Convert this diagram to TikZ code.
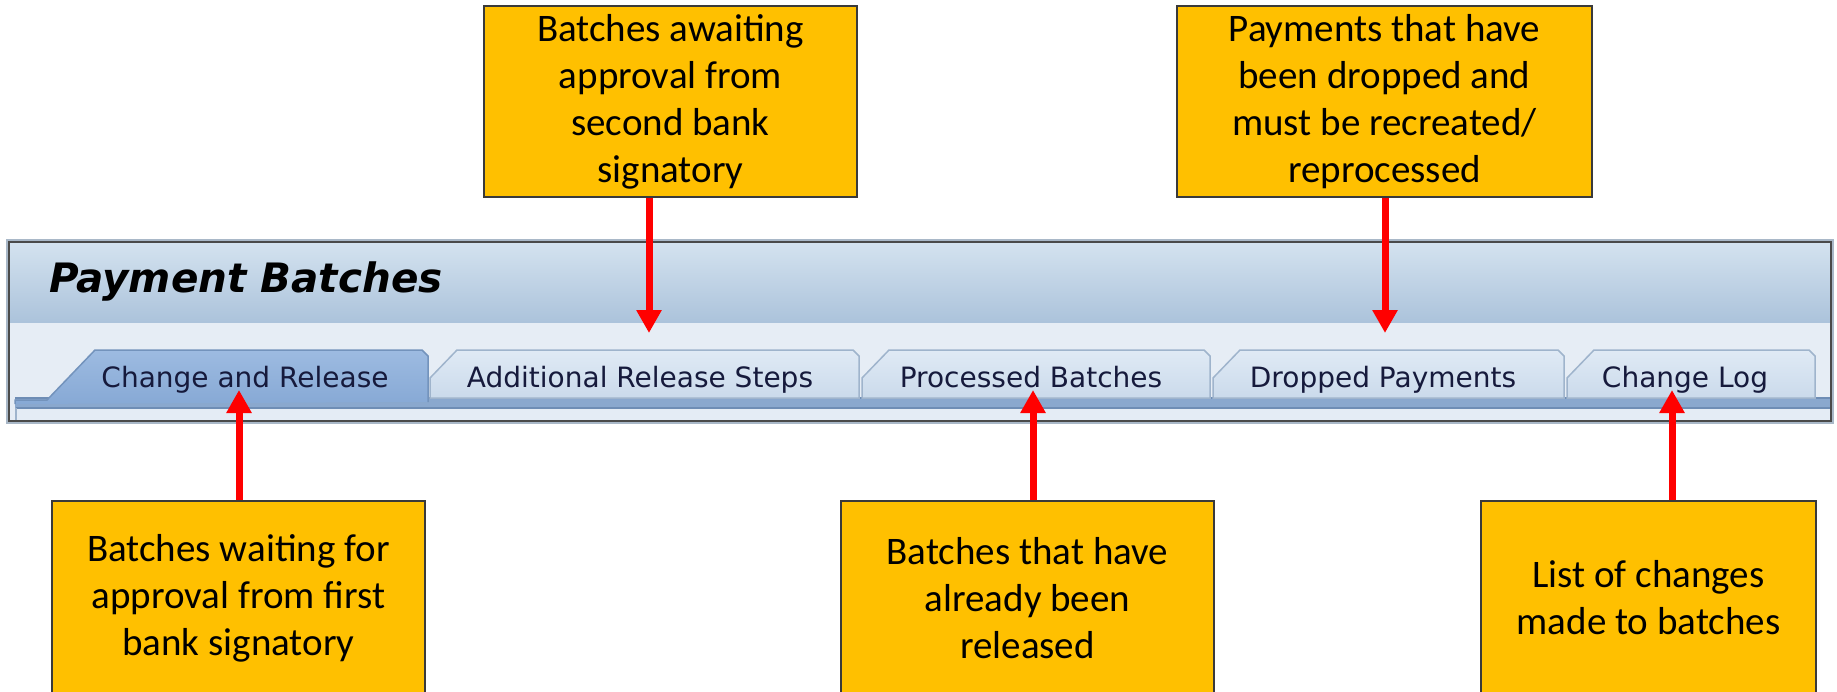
\documentclass[tikz,border=0pt]{standalone}
\usepackage{fontspec}
\setmainfont{Carlito}
\newfontfamily\sapfont{DejaVu Sans}
\usetikzlibrary{arrows.meta}
\definecolor{gold}{HTML}{FFC000}
\definecolor{boxline}{HTML}{3A3A3A}
\definecolor{framelight}{HTML}{A9B8C8}
\definecolor{framedark}{HTML}{4A4A4A}
\definecolor{bandtop}{HTML}{D3E2EF}
\definecolor{bandbot}{HTML}{ACC3DB}
\definecolor{areafill}{HTML}{E6EDF5}
\definecolor{tabtop}{HTML}{E0EAF5}
\definecolor{tabbot}{HTML}{CADAEB}
\definecolor{tabline}{HTML}{9FB4CC}
\definecolor{acttop}{HTML}{9DBBE1}
\definecolor{actbot}{HTML}{87A9D5}
\definecolor{actline}{HTML}{7393BC}
\definecolor{stripblue}{HTML}{8AA8CE}
\definecolor{stripline}{HTML}{6E8DB5}
\definecolor{contentfill}{HTML}{E4ECF5}
\definecolor{tabtext}{HTML}{161A3C}
\begin{document}
\begin{tikzpicture}[x=1pt,y=-1pt,
  callout/.style={draw=boxline, line width=1.5pt, fill=gold, inner sep=0pt, align=center,
    font=\fontsize{39}{47}\selectfont, text=black},
  callarrow/.style={draw=red, line width=7pt, -{Triangle[width=24pt,length=23pt]}},
  tablabel/.style={font=\sapfont\fontsize{28}{30}\selectfont, text=tabtext, anchor=base, inner sep=0pt},
  tabshape/.style={top color=tabtop, bottom color=tabbot, draw=tabline, line width=1.5pt},
  activetab/.style={top color=acttop, bottom color=actbot, draw=actline, line width=1.5pt}]
\useasboundingbox (0,0) rectangle (1837,691);
\begin{scope}
\clip (0,0) rectangle (1837,691);
\fill[white] (0,0) rectangle (1837,691);
% SAP panel
\draw[framelight, line width=2pt] (7,240) rectangle (1833,423);
\fill[areafill] (9,242) rectangle (1831,421);
\shade[top color=bandtop, bottom color=bandbot] (10,243) rectangle (1830,322);
\draw[framedark, line width=2pt] (9,242) rectangle (1831,421);
\node[font=\sapfont\bfseries\itshape\fontsize{40.5}{44}\selectfont, anchor=base, inner sep=0pt] (title) at (246,292) {Payment Batches};
% strip and content
\fill[stripblue] (15,398) rectangle (1830,408);
\draw[stripline, line width=1.5pt] (15,398) -- (1830,398);
\fill[contentfill] (16,408) rectangle (1830,420);
\draw[stripline, line width=1.5pt] (16,408) -- (1830,408);
\draw[tabline, line width=1.5pt] (16,408) -- (16,420);
% inactive tabs
\draw[tabshape] (430,398) -- (430,378) -- (457,350) -- (853,350) -- (859,356) -- (859,398) -- cycle;
\draw[tabshape] (862,398) -- (862,378) -- (889,350) -- (1204,350) -- (1210,356) -- (1210,398) -- cycle;
\draw[tabshape] (1213,398) -- (1213,378) -- (1240,350) -- (1558,350) -- (1564,356) -- (1564,398) -- cycle;
\draw[tabshape] (1567,398) -- (1567,378) -- (1594,350) -- (1809,350) -- (1815,356) -- (1815,398) -- cycle;
% active tab
\draw[activetab] (15,404) -- (15,400) -- (47,400) -- (95,350) -- (422,350) -- (428,356) -- (428,402);
% tab labels
\node[tablabel] (tab1) at (245,387) {Change and Release};
\node[tablabel] (tab2) at (640,387) {Additional Release Steps};
\node[tablabel] (tab3) at (1031,387) {Processed Batches};
\node[tablabel] (tab4) at (1383,387) {Dropped Payments};
\node[tablabel] (tab5) at (1685,387) {Change Log};
% callouts
\node[callout, minimum width=373pt, minimum height=191pt] (boxA) at (670.5,101.5)
  {Batches awaiting\\approval from\\second bank\\signatory};
\node[callout, minimum width=415pt, minimum height=191pt] (boxB) at (1384.5,101.5)
  {Payments that have\\been dropped and\\must be recreated/\\reprocessed};
\node[callout, overlay, minimum width=373pt, minimum height=194pt] (boxC) at (238.5,598)
  {Batches waiting for\\approval from first\\bank signatory};
\node[callout, overlay, minimum width=373pt, minimum height=194pt] (boxD) at (1027.5,598)
  {Batches that have\\already been\\released};
\node[callout, overlay, minimum width=335pt, minimum height=194pt] (boxE) at (1648.5,598)
  {List of changes\\made to batches};
% arrow tips
\coordinate (tA) at (649,333);
\coordinate (tB) at (1385,333);
\coordinate (tC) at (239,390);
\coordinate (tD) at (1033,390);
\coordinate (tE) at (1672,390);
\draw[callarrow] (boxA.south -| tA) -- (tA);
\draw[callarrow] (boxB.south -| tB) -- (tB);
\draw[callarrow] (boxC.north -| tC) -- (tC);
\draw[callarrow] (boxD.north -| tD) -- (tD);
\draw[callarrow] (boxE.north -| tE) -- (tE);
\end{scope}
\end{tikzpicture}
\end{document}
